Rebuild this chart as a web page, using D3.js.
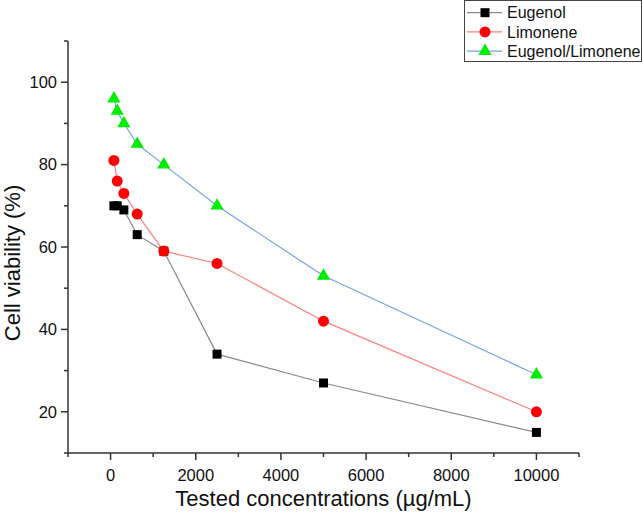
<!DOCTYPE html>
<html><head><meta charset="utf-8">
<script src="https://cdn.jsdelivr.net/npm/d3@7/dist/d3.min.js"></script>
<style>body{margin:0;background:#fff}svg{display:block}text{font-family:"Liberation Sans",Arial,sans-serif}</style>
</head><body>
<svg id="c" width="643" height="518"></svg>
<script>
const concentrations = [78, 156, 312, 625, 1250, 2500, 5000, 10000];
const eugenol = [70, 70, 69, 63, 59, 34, 27, 15];
const limonene = [81, 76, 73, 68, 59, 56, 42, 20];
const eugenolLimonene = [96, 93, 90, 85, 80, 70, 53, 29];
const seriesNames = ["Eugenol", "Limonene", "Eugenol/Limonene"];
const xTicks = [0, 2000, 4000, 6000, 8000, 10000];
const yTicks = [20, 40, 60, 80, 100];

const svg = d3.select("#c");
const x = d3.scaleLinear().domain([-1000, 11000]).range([68, 579]);
const y = d3.scaleLinear().domain([10, 110]).range([453, 41]);
const axisColor = "#333";

// X axis
const gx = svg.append("g").attr("transform", "translate(0,453)");
gx.append("line").attr("x1", x(-1000)).attr("x2", x(11000)).attr("stroke", axisColor).attr("stroke-width", 1.5);
d3.range(-1000, 11001, 1000).forEach(v => {
  const major = v % 2000 === 0;
  gx.append("line").attr("x1", x(v)).attr("x2", x(v)).attr("y1", 0).attr("y2", major ? 7 : 4)
    .attr("stroke", axisColor).attr("stroke-width", 1.5);
});
xTicks.forEach(v => {
  gx.append("text").attr("x", x(v)).attr("y", 28).attr("text-anchor", "middle")
    .attr("font-size", 16.5).attr("fill", "#111").text(v);
});

// Y axis
const gy = svg.append("g").attr("transform", "translate(68,0)");
gy.append("line").attr("y1", y(10)).attr("y2", y(110)).attr("stroke", axisColor).attr("stroke-width", 1.5);
d3.range(10, 111, 10).forEach(v => {
  const major = v % 20 === 0;
  gy.append("line").attr("y1", y(v)).attr("y2", y(v)).attr("x1", 0).attr("x2", major ? -7 : -4)
    .attr("stroke", axisColor).attr("stroke-width", 1.5);
});
yTicks.forEach(v => {
  gy.append("text").attr("x", -11).attr("y", y(v)).attr("dy", "0.35em").attr("text-anchor", "end")
    .attr("font-size", 16.5).attr("fill", "#111").text(v);
});

// Titles
svg.append("text").attr("x", 323.5).attr("y", 506).attr("text-anchor", "middle")
  .attr("font-size", 22).attr("fill", "#111").text("Tested concentrations (µg/mL)");
svg.append("text").attr("transform", "translate(20,263) rotate(-90)").attr("text-anchor", "middle")
  .attr("font-size", 22).attr("fill", "#111").text("Cell viability (%)");

const series = [
  {name: seriesNames[0], values: eugenol, line: "#8a8a8a", fill: "#000", shape: "square"},
  {name: seriesNames[1], values: limonene, line: "#ff7f7f", fill: "#ff0000", shape: "circle"},
  {name: seriesNames[2], values: eugenolLimonene, line: "#75a4e6", fill: "#00ee00", shape: "triangle"}
];
const symbolFor = s => s === "square" ? d3.symbol().type(d3.symbolSquare).size(81)
  : s === "circle" ? d3.symbol().type(d3.symbolCircle).size(95)
  : d3.symbol().type(d3.symbolTriangle).size(75);

const line = d3.line().x((d, i) => x(concentrations[i])).y(d => y(d));
series.forEach(s => {
  svg.append("path").datum(s.values).attr("d", line).attr("fill", "none")
    .attr("stroke", s.line).attr("stroke-width", 1.2);
});
series.forEach(s => {
  svg.append("g").selectAll("path").data(s.values).join("path")
    .attr("transform", (d, i) => `translate(${x(concentrations[i])},${y(d)})`)
    .attr("d", symbolFor(s.shape)()).attr("fill", s.fill);
});

// Legend
const lg = svg.append("g");
lg.append("rect").attr("x", 464.5).attr("y", 0.5).attr("width", 177).attr("height", 61)
  .attr("fill", "#fff").attr("stroke", "#444").attr("stroke-width", 1);
series.forEach((s, i) => {
  const cy = 12.7 + i * 19.2;
  lg.append("line").attr("x1", 467).attr("x2", 502).attr("y1", cy).attr("y2", cy).attr("stroke", s.line).attr("stroke-width", 1.2);
  lg.append("path").attr("transform", `translate(485,${cy})`).attr("d", symbolFor(s.shape)()).attr("fill", s.fill);
  lg.append("text").attr("x", 507).attr("y", cy).attr("dy", "0.35em").attr("font-size", 16).attr("fill", "#111").text(s.name);
});
</script>
</body></html>
